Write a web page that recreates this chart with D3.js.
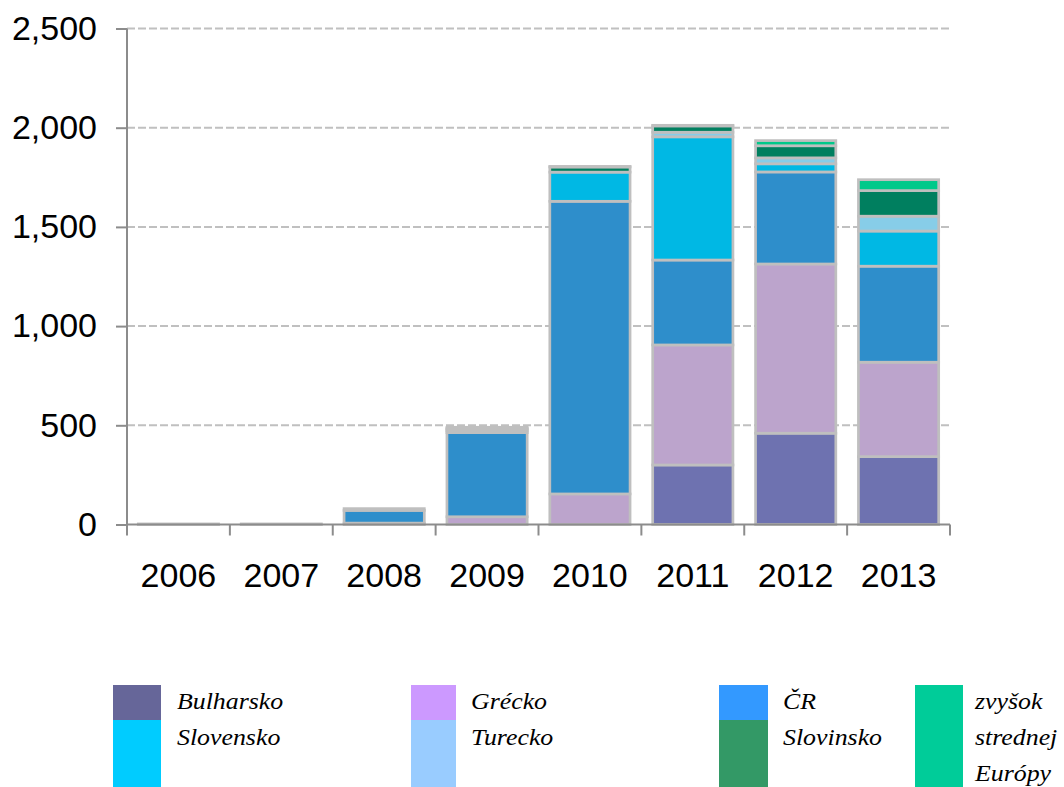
<!DOCTYPE html>
<html lang="sk">
<head>
<meta charset="UTF-8">
<title>Stacked bars 2006-2013</title>
<script src="https://d3js.org/d3.v7.min.js"></script>
<style>
  body { margin: 0; background: #fff; }
  svg { display: block; }
</style>
</head>
<body>
<svg id="chart" width="1064" height="787"></svg>
<script>
// categories
const years = ["2006", "2007", "2008", "2009", "2010", "2011", "2012", "2013"];
const yTicks = [0, 500, 1000, 1500, 2000, 2500];

// series values, bottom to top
const bulharsko = [0, 0, 0, 0, 0, 300, 460, 342];
const grecko    = [0, 0, 7, 39, 154, 605, 853, 476];
const cr        = [3, 3, 64, 424, 1475, 428, 464, 484];
const slovensko = [0, 0, 9, 10, 147, 621, 41, 177];
const turecko   = [0, 0, 0, 7, 0, 23, 30, 75];
const slovinsko = [0, 0, 0, 5, 26, 32, 61, 129];
const zvysok    = [0, 0, 0, 5, 3, 3, 26, 55];

const seriesNames = ["Bulharsko", "Grécko", "ČR", "Slovensko", "Turecko", "Slovinsko", "zvyšok strednej Európy"];
const seriesValues = [bulharsko, grecko, cr, slovensko, turecko, slovinsko, zvysok];
const barColors = ["#6e72b0", "#bca4cc", "#2e8ecb", "#00b8e4", "#87cde8", "#007f5f", "#00c98a"];
const legendColors = ["#666699", "#cc99ff", "#3399ff", "#00ccff", "#99ccff", "#339966", "#00cc99"];

const svg = d3.select("#chart");
const plotL = 127, plotR = 950, plotT = 28.5, plotB = 524.5;

const x = d3.scaleBand().domain(years).range([plotL, plotR]).paddingInner(0.22).paddingOuter(0.11);
const y = d3.scaleLinear().domain([0, 2500]).range([plotB, plotT]);

// table for the stack
const table = years.map((yr, i) => {
  const row = { year: yr };
  seriesNames.forEach((n, k) => row[n] = seriesValues[k][i]);
  return row;
});
const stacked = d3.stack().keys(seriesNames)(table);

// dashed grid
svg.append("g").selectAll("line").data(yTicks.filter(t => t > 0)).enter().append("line")
  .attr("x1", plotL).attr("x2", plotR)
  .attr("y1", d => y(d)).attr("y2", d => y(d))
  .attr("stroke", "#c0c0c0").attr("stroke-width", 2).attr("stroke-dasharray", "8,3");

// bars
svg.append("g").selectAll("g").data(stacked).enter().append("g")
  .attr("fill", (d, i) => barColors[i])
  .selectAll("rect").data(d => d).enter().append("rect")
  .attr("x", d => x(d.data.year))
  .attr("width", x.bandwidth())
  .attr("y", d => y(d[1]))
  .attr("height", d => y(d[0]) - y(d[1]))
  .attr("stroke", "#bfbfbf").attr("stroke-width", 2.7);

// axes
const axisColor = "#8c8c8c";
const yAxis = svg.append("g").attr("transform", `translate(${plotL},0)`)
  .call(d3.axisLeft(y).tickValues(yTicks).tickSize(11).tickPadding(19).tickFormat(d3.format(",")));
yAxis.select(".domain").remove();
yAxis.append("line").attr("x1", 0).attr("x2", 0).attr("y1", plotT).attr("y2", plotB + 11)
  .attr("stroke", axisColor).attr("stroke-width", 2);
yAxis.selectAll(".tick line").attr("stroke", axisColor).attr("stroke-width", 2);
yAxis.selectAll(".tick text").attr("fill", "#000")
  .style("font-family", "'Liberation Sans', Arial, sans-serif").style("font-size", "34px");

const xAxis = svg.append("g").attr("transform", `translate(0,${plotB})`);
xAxis.append("line").attr("x1", plotL).attr("x2", plotR).attr("y1", 0).attr("y2", 0)
  .attr("stroke", axisColor).attr("stroke-width", 2);
const boundaries = years.map((yr, i) => plotL + i * (plotR - plotL) / years.length).concat([plotR]);
xAxis.selectAll("line.tk").data(boundaries.slice(1)).enter().append("line").attr("class", "tk")
  .attr("x1", d => d).attr("x2", d => d).attr("y1", 0).attr("y2", 11)
  .attr("stroke", axisColor).attr("stroke-width", 2);
xAxis.selectAll("text").data(years).enter().append("text")
  .attr("x", d => x(d) + x.bandwidth() / 2).attr("y", 62)
  .attr("text-anchor", "middle")
  .style("font-family", "'Liberation Sans', Arial, sans-serif").style("font-size", "34px")
  .text(d => d);

// legend: 4 columns
const legendCols = [
  { x: 113, w: 48, tx: 177, items: [0, 3] },
  { x: 411, w: 45, tx: 471, items: [1, 4] },
  { x: 719, w: 49, tx: 783, items: [2, 5] },
  { x: 915, w: 48, tx: 975, items: [6] }
];
const legendTextLines = [["Bulharsko"], ["Grécko"], ["ČR"], ["Slovensko"], ["Turecko"], ["Slovinsko"], ["zvyšok", "strednej", "Európy"]];
const lg = svg.append("g");
legendCols.forEach(col => {
  col.items.forEach((s, j) => {
    const y0 = j === 0 ? 685 : 720;
    const y1 = (j === 0 && col.items.length > 1) ? 720 : 787;
    lg.append("rect").attr("x", col.x).attr("y", y0).attr("width", col.w).attr("height", y1 - y0)
      .attr("fill", legendColors[s]);
    legendTextLines[s].forEach((t, k) => {
      const ty = 709 + (j + k) * 36;
      lg.append("text")
        .attr("transform", `translate(${col.tx},${ty}) scale(1.1,1)`)
        .style("font-family", "'Liberation Serif', 'Times New Roman', serif")
        .style("font-style", "italic").style("font-size", "23.5px")
        .text(t);
    });
  });
});
</script>
</body>
</html>
